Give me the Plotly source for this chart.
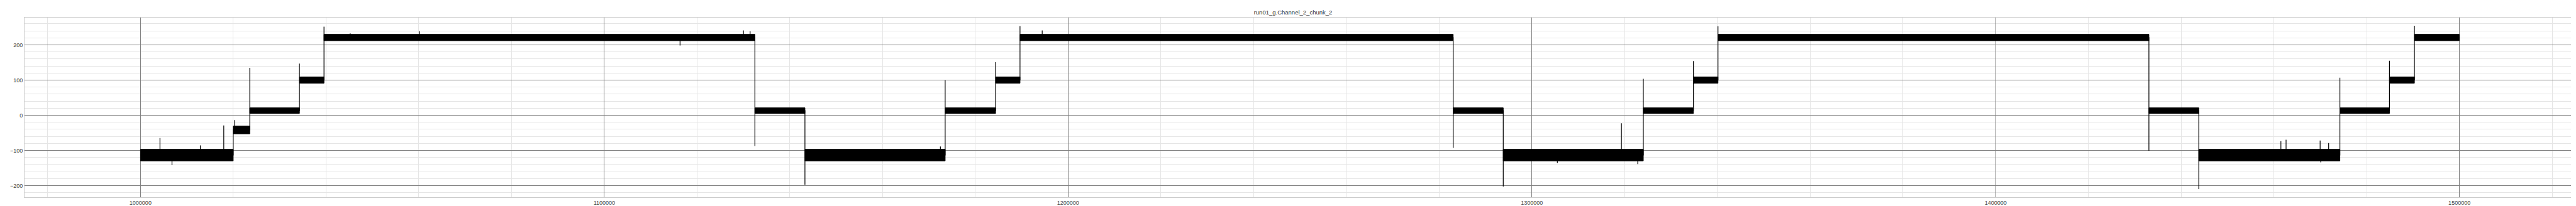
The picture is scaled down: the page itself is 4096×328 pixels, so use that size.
import plotly.graph_objects as go

# ---- data ----
title_text = "run01_g.Channel_2_chunk_2"

# segment boundaries (sample index)
seg_edges = [1000000, 1020000, 1023570, 1034275, 1039570, 1132477, 1143268,
             1173504, 1184376, 1189641, 1283042, 1293834, 1324034, 1334838,
             1340137, 1433049, 1443803, 1474230, 1484918, 1490295, 1500000]
# noise band of each segment (low / high)
seg_low = [-130, -53, 5, 91, 212, 5, -130, 5, 91, 212, 5, -130, 5, 91, 212,
           5, -130, 5, 91, 212]
seg_high = [-97, -31, 21, 109, 230, 21, -97, 21, 109, 230, 21, -97, 21, 109,
            230, 21, -97, 21, 109, 230]
# overshoot value at each transition (between segment i and i+1); None = no overshoot
trans_peak = [None, 134.7, 147, 252, -87.6, -198, 99, 151, 253.8, -93, -203,
              103.6, 153.8, 253, -101, -210, 106.7, 154.7, 254.5]
# isolated spikes inside segments
spike_x = [1004204, 1006797, 1012900, 1017960, 1020300, 1045216, 1060200,
           1116340, 1130011, 1131450, 1172479, 1194427, 1305500, 1319316,
           1322838, 1461508, 1462623, 1469967, 1470100, 1471803]
spike_y = [-65, -142, -86, -29, -14, 233, 239, 198, 241, 239, -89, 241,
           -136, -23, -139, -74, -70, -72, -134, -79]

# ---- build traces ----
centers = [(lo + hi) / 2 for lo, hi in zip(seg_low, seg_high)]


def seg_of(x):
    for i in range(len(seg_edges) - 1):
        if seg_edges[i] <= x < seg_edges[i + 1]:
            return i
    return len(seg_edges) - 2


events = []
for i in range(1, len(seg_edges) - 1):
    events.append((seg_edges[i], "t", i))
for k in range(len(spike_x)):
    events.append((spike_x[k], "s", k))
events.sort(key=lambda e: e[0])

lx, ly = [seg_edges[0]], [centers[0]]
for x, kind, idx in events:
    if kind == "t":
        prev_c, next_c = centers[idx - 1], centers[idx]
        lx.append(x); ly.append(prev_c)
        pk = trans_peak[idx - 1]
        if pk is not None:
            lx.append(x); ly.append(pk)
        lx.append(x); ly.append(next_c)
    else:
        c = centers[seg_of(x)]
        lx += [x, x, x]
        ly += [c, spike_y[idx], c]
lx.append(seg_edges[-1]); ly.append(centers[-1])

bx, by = [], []
for i in range(len(seg_edges) - 1):
    s, e = seg_edges[i], seg_edges[i + 1]
    bx += [s, e, e, s, s, None]
    by += [seg_low[i], seg_low[i], seg_high[i], seg_high[i], seg_low[i], None]

fig = go.Figure()
fig.add_trace(go.Scatter(x=bx, y=by, mode="lines", fill="toself",
                         fillcolor="black", line=dict(color="black", width=1),
                         hoverinfo="skip", showlegend=False))
fig.add_trace(go.Scatter(x=lx, y=ly, mode="lines",
                         line=dict(color="black", width=1.2),
                         showlegend=False))

font_family = "Liberation Sans Narrow, Arial Narrow, Liberation Sans, Arial, sans-serif"
fig.update_layout(
    width=4096, height=328,
    margin=dict(l=28, r=8, t=20, b=18),
    paper_bgcolor="white", plot_bgcolor="white",
    font=dict(family=font_family, size=9, color="#444444"),
    title=dict(text=title_text, x=0.5, xanchor="center", y=1 - 12 / 328,
               yanchor="middle", font=dict(size=9.5, color="#333333")),
    xaxis=dict(range=[975000, 1525000], dtick=100000, tick0=0,
               tickformat="d", showgrid=True, gridcolor="#7f7f7f",
               gridwidth=1, zeroline=False, showline=True, mirror=True,
               linecolor="#cccccc", linewidth=1, ticks="",
               minor=dict(dtick=20000, tick0=0, showgrid=True,
                          gridcolor="#e5e5e5", gridwidth=1)),
    yaxis=dict(range=[-233.3, 277.7], dtick=100, tick0=0,
               showgrid=True, gridcolor="#7f7f7f", gridwidth=1,
               zeroline=True, zerolinecolor="#7f7f7f", zerolinewidth=1,
               showline=True, mirror=True, linecolor="#cccccc", linewidth=1,
               ticks="",
               minor=dict(dtick=20, tick0=0, showgrid=True,
                          gridcolor="#e5e5e5", gridwidth=1)),
)

fig.write_html("out.html")
